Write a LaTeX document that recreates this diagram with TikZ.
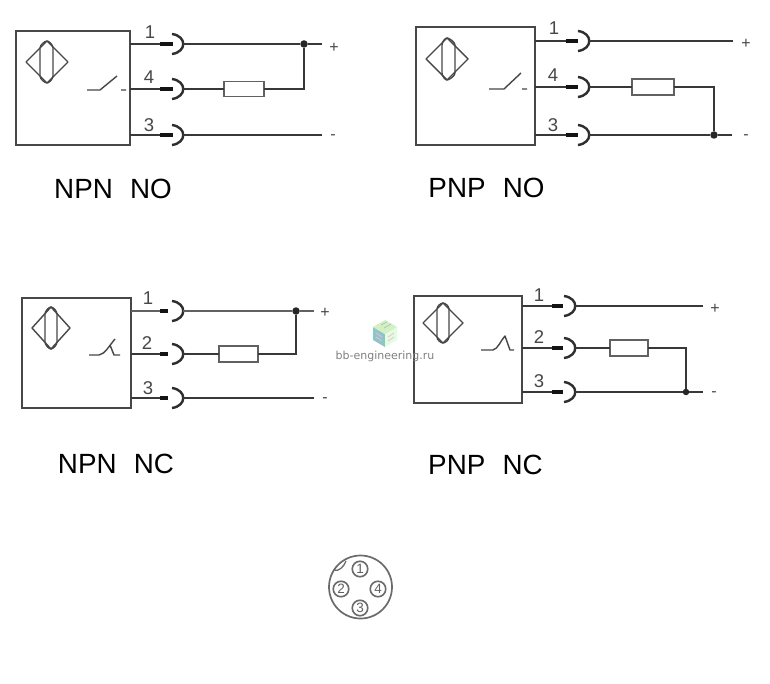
\documentclass[tikz,border=0pt]{standalone}
\usepackage{fontspec}
\setmainfont{Liberation Sans}
\newfontfamily\wmfont{DejaVu Sans}
\colorlet{ink}{black!78}
\tikzset{
  x=1pt,y=-1pt,
  wire/.style={draw=ink,line width=1.5pt,line cap=butt,line join=miter},
  hwire/.style={draw=black!62,line width=2.6pt},
  housing/.style={draw=black!72,line width=1.6pt,fill=white,inner sep=0pt,outer sep=0pt,anchor=north west},
  res/.style={draw=black!62,line width=1.5pt,fill=white,inner sep=0pt,outer sep=0pt,anchor=west},
  pin/.style={font=\fontsize{18.5}{18.5}\selectfont,text=black!72,inner sep=0pt},
  sign/.style={font=\fontsize{16}{16}\selectfont,text=black!72,inner sep=0pt,yshift=-2.5pt},
  captext/.style={font=\fontsize{27.8}{28}\selectfont,text=black,inner sep=0pt},
  junct/.style={circle,fill=black!85,draw=none,minimum size=7.5pt,inner sep=0pt},
  symb/.style={draw=black!72,line width=1.4pt,line join=round},
  cnum/.style={circle,draw=black!58,line width=1.6pt,minimum size=15.5pt,inner sep=0pt,font=\fontsize{13.5}{13.5}\selectfont,text=black!62},
}
% \plug{name}{stub x}{y}{stub length}
\newcommand{\plug}[4]{%
  \coordinate (#1in) at (#2,#3);
  \coordinate (#1out) at (#2+23,#3);
  \draw[black!92,line width=4.6pt] (#1in) -- ++(#4,0);
  \draw[black!82,line width=2.4pt] (#2+12,#3-10) .. controls (#2+27,#3-8) and (#2+27,#3+8) .. (#2+12,#3+10);
}
% \prox{cx}{cy}{half width}{half height}{bar x1}{bar x2}
\newcommand{\prox}[6]{%
  \draw[symb] (#1-#3,#2) -- (#1,#2-#4) -- (#1+#3,#2) -- (#1,#2+#4) -- cycle;
  \draw[symb] (#5,#2+14) -- (#5,#2-14) .. controls (#5,#2-17) and (#1-2,#2-#4) .. (#1,#2-#4) .. controls (#1+2,#2-#4) and (#6,#2-17) .. (#6,#2-14) -- (#6,#2+14) .. controls (#6,#2+17) and (#1+2,#2+#4) .. (#1,#2+#4) .. controls (#1-2,#2+#4) and (#5,#2+17) .. (#5,#2+14);
}
\begin{document}
\begin{tikzpicture}
\useasboundingbox[fill=white] (0,0) rectangle (770,684);

% ---------- NPN NO
\node[housing,minimum width=114pt,minimum height=114pt] (boxa) at (16,31) {};
\prox{47}{62}{21}{21}{40}{53}
\draw[symb] (87,90) -- (100,90) -- (117,76) (121,90) -- (126,90);
\coordinate (a1) at (130,44); \coordinate (a2) at (130,89); \coordinate (a3) at (130,135);
\plug{ap1}{160}{44}{13}\plug{ap2}{160}{89}{13}\plug{ap3}{160}{135}{13}
\node[res,minimum width=40pt,minimum height=15pt] (ra) at (224,89) {};
\node[junct] (ja) at (304,44) {};
\coordinate (ae1) at (322,44); \coordinate (ae3) at (322,135); \coordinate (ac) at (304,89);
\draw[wire] (a1) -- (ap1in) (a2) -- (ap2in) (a3) -- (ap3in);
\draw[wire] (ap1out) -- (ja) -- (ae1);
\draw[wire] (ap2out) -- (ra.west) (ra.east) -- (ac) -- (ja);
\draw[wire] (ap3out) -- (ae3);
\node[pin] (al1) at (150,32) {1}; \node[pin] (al2) at (149,77) {4}; \node[pin] (al3) at (149,125) {3};
\node[sign] (ap) at (334,45) {+}; \node[sign] (am) at (333,135) {-};
\node[captext] (ca) at (113,189) {NPN\hspace{0.62em}NO};

% ---------- PNP NO
\node[housing,minimum width=119pt,minimum height=118pt] (boxb) at (416,27) {};
\prox{447}{59}{21}{21}{442}{455}
\draw[symb] (489,89) -- (504,89) -- (521,73) (522,89) -- (527,89);
\coordinate (b1) at (535,41); \coordinate (b2) at (535,87); \coordinate (b3) at (535,135);
\plug{bp1}{566}{41}{12}\plug{bp2}{566}{87}{12}\plug{bp3}{566}{135}{12}
\node[res,minimum width=42pt,minimum height=16pt] (rb) at (632,87) {};
\node[junct] (jb) at (714,135) {};
\coordinate (be1) at (733,41); \coordinate (be3) at (732,135); \coordinate (bc) at (714,87);
\draw[wire,line width=2.2pt] (b1) -- (bp1in) (bp1out) -- (be1);
\draw[wire] (b2) -- (bp2in) (b3) -- (bp3in);
\draw[wire] (bp2out) -- (rb.west) (rb.east) -- (bc) -- (jb);
\draw[wire] (bp3out) -- (jb) -- (be3);
\node[pin] (bl1) at (554,28) {1}; \node[pin] (bl2) at (553,75) {4}; \node[pin] (bl3) at (553,125) {3};
\node[sign] (bpl) at (746,41) {+}; \node[sign] (bm) at (746,135) {-};
\node[captext] (cb) at (486.5,188) {PNP\hspace{0.62em}NO};

% ---------- NPN NC
\node[housing,minimum width=109pt,minimum height=110pt] (boxc) at (22,298) {};
\prox{51}{328}{19}{21}{45}{57}
\draw[symb] (89,355) -- (99,355) .. controls (105,354) and (109,346) .. (115,339);
\draw[symb] (110,345) -- (114,355) -- (120,355);
\coordinate (c1) at (131,311); \coordinate (c2) at (131,354); \coordinate (c3) at (131,398);
\plug{cp1}{160}{311}{8}\plug{cp2}{160}{354}{8}\plug{cp3}{160}{398}{8}
\node[res,minimum width=39pt,minimum height=16pt] (rc) at (219,354) {};
\node[junct] (jc) at (296,311) {};
\coordinate (ce1) at (314,311); \coordinate (ce3) at (314,398); \coordinate (cc) at (296,354);
\draw[hwire] (c1) -- (cp1in) (cp1out) -- (jc) -- (ce1);
\draw[wire] (c2) -- (cp2in) (c3) -- (cp3in);
\draw[wire] (cp2out) -- (rc.west) (rc.east) -- (cc) -- (jc);
\draw[wire] (cp3out) -- (ce3);
\node[pin] (cl1) at (148,298) {1}; \node[pin] (cl2) at (147,343) {2}; \node[pin] (cl3) at (148,388) {3};
\node[sign] (cpl) at (325,310) {+}; \node[sign] (cm) at (325,398) {-};
\node[captext] (cd) at (116,464) {NPN\hspace{0.62em}NC};

% ---------- PNP NC
\node[housing,minimum width=108pt,minimum height=107pt] (boxd) at (414,296) {};
\prox{443}{323}{20}{20}{437}{449}
\draw[symb] (481,350) -- (493,350) .. controls (498,349) and (501,340) .. (505,336) -- (510,350) -- (514,350);
\coordinate (d1) at (522,306); \coordinate (d2) at (522,348); \coordinate (d3) at (522,392);
\plug{dp1}{552}{306}{11}\plug{dp2}{552}{348}{11}\plug{dp3}{552}{392}{11}
\node[res,minimum width=38pt,minimum height=16pt] (rd) at (610,348) {};
\node[junct,minimum size=6.5pt] (jd) at (686,392) {};
\coordinate (de1) at (703,306); \coordinate (de3) at (703,392); \coordinate (dc) at (686,348);
\draw[wire] (d1) -- (dp1in) (dp1out) -- (de1);
\draw[wire,line width=1.9pt] (d2) -- (dp2in) (dp2out) -- (rd.west) (rd.east) -- (dc) -- (jd);
\draw[wire] (d3) -- (dp3in) (dp3out) -- (jd) -- (de3);
\node[pin] (dl1) at (539,295) {1}; \node[pin] (dl2) at (539,337) {2}; \node[pin] (dl3) at (539,381) {3};
\node[sign] (dpl) at (715,306) {+}; \node[sign] (dm) at (714,392) {-};
\node[captext] (ce) at (485.5,465) {PNP\hspace{0.62em}NC};

% ---------- watermark
\fill[teal!45!white] (373,327) -- (385,334) -- (385,347) -- (373,340) -- cycle;
\fill[green!12!white] (397,327) -- (385,334) -- (385,347) -- (397,340) -- cycle;
\fill[yellow!35!green!25!white] (373,327) -- (385,320) -- (397,327) -- (385,334) -- cycle;
\draw[teal!40!white,line width=.8pt] (381,325) -- (387,322) (384,328) -- (391,324);
\draw[magenta!30!white,line width=.8pt] (376,333) -- (382,337) (376,337) -- (382,341) (388,337) -- (394,333) (388,341) -- (394,337);
\node[font=\wmfont\fontsize{11}{11}\selectfont,text=black!50,inner sep=0pt] (wm) at (385,356) {bb-engineering.ru};

% ---------- connector face
\node[circle,draw=black!58,line width=1.7pt,minimum size=63pt,inner sep=0pt] (face) at (360.5,587) {};
\node[cnum] (n1) at (360,569) {1};
\node[cnum] (n2) at (341,589) {2};
\node[cnum] (n4) at (378,589) {4};
\node[cnum] (n3) at (360,608) {3};
\draw[black!58,line width=1.3pt] (334,570) .. controls (338,572) and (344,567) .. (346,561);
\end{tikzpicture}
\end{document}
